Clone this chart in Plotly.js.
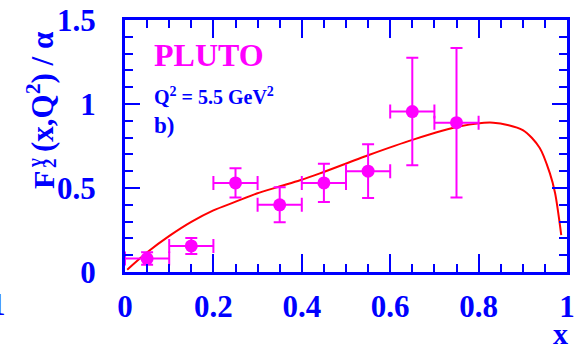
<!DOCTYPE html>
<html>
<head>
<meta charset="utf-8">
<script src="https://cdn.plot.ly/plotly-3.0.1.min.js"></script>
<style>html,body{margin:0;padding:0;background:#fff;}</style>
</head>
<body>
<div id="chart" style="width:575px;height:352px;"></div>
<script>
// PLUTO data points, Q^2 = 5.5 GeV^2
const dataX = [0.05, 0.15, 0.25, 0.35, 0.45, 0.55, 0.65, 0.75];
const dataY = [0.08, 0.155, 0.53, 0.40, 0.53, 0.60, 0.955, 0.889];
const dataErrY = [0.037, 0.048, 0.087, 0.104, 0.114, 0.16, 0.32, 0.445];
const dataErrX = [0.05, 0.05, 0.05, 0.05, 0.05, 0.05, 0.05, 0.05];

// theory curve
const curveX = [0.005, 0.051, 0.102, 0.151, 0.2, 0.249, 0.298, 0.351, 0.396, 0.441, 0.55, 0.652, 0.758, 0.833, 0.9, 0.938, 0.961, 0.973, 0.987];
const curveY = [0.014, 0.119, 0.218, 0.30, 0.367, 0.417, 0.467, 0.51, 0.546, 0.587, 0.695, 0.788, 0.867, 0.889, 0.845, 0.74, 0.59, 0.47, 0.22];

const xTicks = [0, 0.2, 0.4, 0.6, 0.8, 1];
const xTickText = ['0', '0.2', '0.4', '0.6', '0.8', '1'];
const yTicks = [0, 0.5, 1, 1.5];
const yTickText = ['0', '0.5', '1', '1.5'];

const BLUE = '#0000ff';
const MAG = '#ff00ff';
const FONT = 'Liberation Serif, Times New Roman, serif';

const traces = [
  {
    x: curveX, y: curveY, type: 'scatter', mode: 'lines',
    line: {color: '#ff0000', width: 2, shape: 'spline', smoothing: 0.8},
    hoverinfo: 'skip', cliponaxis: true
  },
  {
    x: dataX, y: dataY, type: 'scatter', mode: 'markers',
    marker: {color: MAG, size: 13},
    error_y: {type: 'data', array: dataErrY, visible: true, color: MAG, thickness: 2, width: 6},
    error_x: {type: 'data', array: dataErrX, visible: true, color: MAG, thickness: 2, width: 7},
    cliponaxis: false
  }
];

const axisCommon = {
  showline: true, linecolor: BLUE, linewidth: 3, mirror: 'allticks',
  ticks: 'inside', tickcolor: BLUE, tickwidth: 2,
  showgrid: false, zeroline: false,
  tickfont: {family: FONT, size: 31, color: BLUE, weight: 'bold'},
  tickmode: 'array'
};

function px2x(p) { return (p - 125) / 442; }
function px2y(p) { return (272 - p) / 252; }

const layout = {
  width: 575, height: 352,
  margin: {l: 125, r: 8, t: 20, b: 80},
  paper_bgcolor: '#fff', plot_bgcolor: '#fff',
  showlegend: false,
  xaxis: Object.assign({}, axisCommon, {
    range: [0, 1], tickvals: xTicks, ticktext: xTickText, ticklen: 18,
    minor: {dtick: 0.05, tick0: 0, ticklen: 8, tickcolor: BLUE, tickwidth: 2, ticks: 'inside', showgrid: false},
    ticklabelstandoff: 5
  }),
  yaxis: Object.assign({}, axisCommon, {
    range: [0, 1.5], tickvals: yTicks, ticktext: yTickText, ticklen: 15,
    minor: {dtick: 0.1, tick0: 0, ticklen: 8, tickcolor: BLUE, tickwidth: 2, ticks: 'inside', showgrid: false},
    ticklabelstandoff: 20
  }),
  annotations: [
    {xref: 'paper', yref: 'paper', x: 0.06, y: 0.86, xanchor: 'left', yanchor: 'middle',
     text: '<b>PLUTO</b>', showarrow: false, font: {family: FONT, size: 32, color: MAG}},
    {xref: 'paper', yref: 'paper', x: 0.06, y: 0.70, xanchor: 'left', yanchor: 'middle',
     text: '<b>Q<sup>2</sup> = 5.5 GeV<sup>2</sup></b>', showarrow: false, font: {family: FONT, size: 20, color: BLUE}},
    {xref: 'paper', yref: 'paper', x: 0.06, y: 0.58, xanchor: 'left', yanchor: 'middle',
     text: '<b>b)</b>', showarrow: false, font: {family: FONT, size: 23, color: BLUE}},
    // y-axis title pieces (rotated), with stacked super/subscript
    {xref: 'paper', yref: 'paper', x: px2x(43), y: px2y(180), xanchor: 'center', yanchor: 'middle', textangle: -90,
     text: '<b>F</b>', showarrow: false, font: {family: FONT, size: 30, color: BLUE}},
    {xref: 'paper', yref: 'paper', x: px2x(34), y: px2y(163), xanchor: 'center', yanchor: 'middle', textangle: -90,
     text: '<b>γ</b>', showarrow: false, font: {family: FONT, size: 19, color: BLUE}},
    {xref: 'paper', yref: 'paper', x: px2x(49), y: px2y(163), xanchor: 'center', yanchor: 'middle', textangle: -90,
     text: '<b>2</b>', showarrow: false, font: {family: FONT, size: 19, color: BLUE}},
    {xref: 'paper', yref: 'paper', x: px2x(40), y: px2y(92), xanchor: 'center', yanchor: 'middle', textangle: -90,
     text: '<b>(x,Q<sup>2</sup>) / α</b>', showarrow: false, font: {family: FONT, size: 31, color: BLUE}},
    {xref: 'paper', yref: 'paper', x: px2x(560), y: px2y(333), xanchor: 'center', yanchor: 'middle',
     text: '<b>x</b>', showarrow: false, font: {family: FONT, size: 30, color: BLUE}},
    {xref: 'paper', yref: 'paper', x: px2x(-12), y: px2y(304), xanchor: 'left', yanchor: 'middle',
     text: '<b>1</b>', showarrow: false, font: {family: FONT, size: 31, color: BLUE}}
  ]
};

Plotly.newPlot('chart', traces, layout, {displayModeBar: false, staticPlot: true});
</script>
</body>
</html>
